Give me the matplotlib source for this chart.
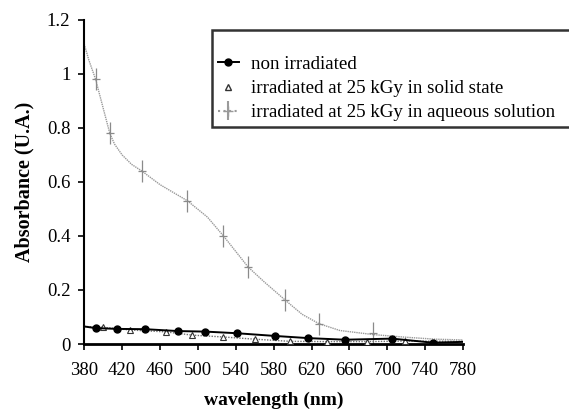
import matplotlib
matplotlib.use('Agg')
import matplotlib.pyplot as plt
from matplotlib.ticker import FuncFormatter

plt.rcParams['font.family'] = ['Liberation Serif', 'DejaVu Serif']

# non irradiated
x_non = [380, 392, 415, 444, 479, 508, 541, 581, 616, 655, 705, 748, 780]
y_non = [0.065, 0.059, 0.056, 0.055, 0.048, 0.046, 0.040, 0.030, 0.022, 0.016, 0.020, 0.005, 0.008]

# irradiated, solid state
x_sol = [380, 400, 428, 466, 494, 527, 560, 597, 636, 679, 719, 780]
y_sol = [0.065, 0.062, 0.052, 0.045, 0.033, 0.026, 0.018, 0.010, 0.009, 0.009, 0.011, 0.010]

# irradiated, aqueous solution (curve)
x_aq = [380, 385, 392, 398, 407, 412, 420, 430, 441, 460, 489, 510, 527, 553, 570, 592,
        610, 628, 650, 685, 720, 750, 780]
y_aq = [1.11, 1.05, 0.98, 0.90, 0.78, 0.74, 0.70, 0.665, 0.64, 0.59, 0.53, 0.47, 0.40, 0.285,
        0.23, 0.163, 0.11, 0.075, 0.05, 0.035, 0.025, 0.018, 0.015]
# points with error crosses
x_aq_err = [392, 407, 441, 489, 527, 553, 592, 628, 685]
y_aq_err = [0.98, 0.78, 0.64, 0.53, 0.40, 0.285, 0.163, 0.075, 0.04]
e_aq = [0.04, 0.04, 0.04, 0.04, 0.04, 0.04, 0.04, 0.04, 0.04]

fig = plt.figure(figsize=(5.69, 4.13), dpi=100)
ax = fig.add_axes([0.148, 0.167, 0.666, 0.785])

ax.plot(x_aq, y_aq, color='#9a9a9a', lw=1.0, ls=(0, (1, 0.6)), zorder=2)
ax.errorbar(x_aq_err, y_aq_err, yerr=e_aq, fmt='none', ecolor='#8a8a8a',
            elinewidth=0.9, capsize=0, zorder=2)
ax.plot(x_aq_err, y_aq_err, ls='none', marker='_', ms=6, mew=0.9,
        color='#8a8a8a', zorder=2)

ax.plot(x_sol, y_sol, color='#707070', lw=1.0, ls=(0, (1, 1)), marker='^',
        mfc='white', mec='#333333', ms=5, mew=0.8, markevery=list(range(1, 11)),
        zorder=3)
ax.plot(x_non, y_non, color='black', lw=1.4, marker='o', ms=5,
        markevery=list(range(1, 12)), zorder=4)

ax.set_xlim(380, 780)
ax.set_ylim(0, 1.2)
ax.set_xticks(range(380, 781, 40))
ax.set_yticks([0, 0.2, 0.4, 0.6, 0.8, 1.0, 1.2])
ax.yaxis.set_major_formatter(FuncFormatter(lambda v, p: '%g' % round(v, 1)))
ax.spines['top'].set_visible(False)
ax.spines['right'].set_visible(False)
ax.spines['left'].set_linewidth(1.5)
ax.spines['bottom'].set_linewidth(2.0)
ax.tick_params(direction='out', length=4, width=1.2, labelsize=13.5)
ax.tick_params(axis='x', pad=9)
ax.tick_params(axis='y', pad=6)

ax.set_xlabel('wavelength (nm)', fontsize=14, fontweight='bold', labelpad=9)
ax.set_ylabel('Absorbance (U.A.)', fontsize=14.5, fontweight='bold', labelpad=9)

h_non, = ax.plot([], [], color='black', lw=1.4, marker='o', ms=5)
h_sol, = ax.plot([], [], ls='none', marker='^', mfc='white', mec='#333333', ms=5)
h_aq = ax.errorbar([], [], yerr=[], fmt='', color='#9a9a9a', ls=':', marker='+', ms=7)
# legend box runs past the right edge, as in the original
leg = fig.legend([h_non, h_sol, h_aq],
                 ['non irradiated', 'irradiated at 25 kGy in solid state',
                  'irradiated at 25 kGy in aqueous solution'],
                 loc='upper left', bbox_to_anchor=(0.373, 0.5, 0.66, 0.427),
                 mode='expand', fontsize=13.7,
                 title=' ', title_fontsize=10,
                 frameon=True, fancybox=False, edgecolor='black',
                 handlelength=1.1, handletextpad=0.65, labelspacing=0.36,
                 borderpad=0.3, borderaxespad=0)
leg.get_frame().set_linewidth(1.8)

fig.savefig('out.png', dpi=100)
